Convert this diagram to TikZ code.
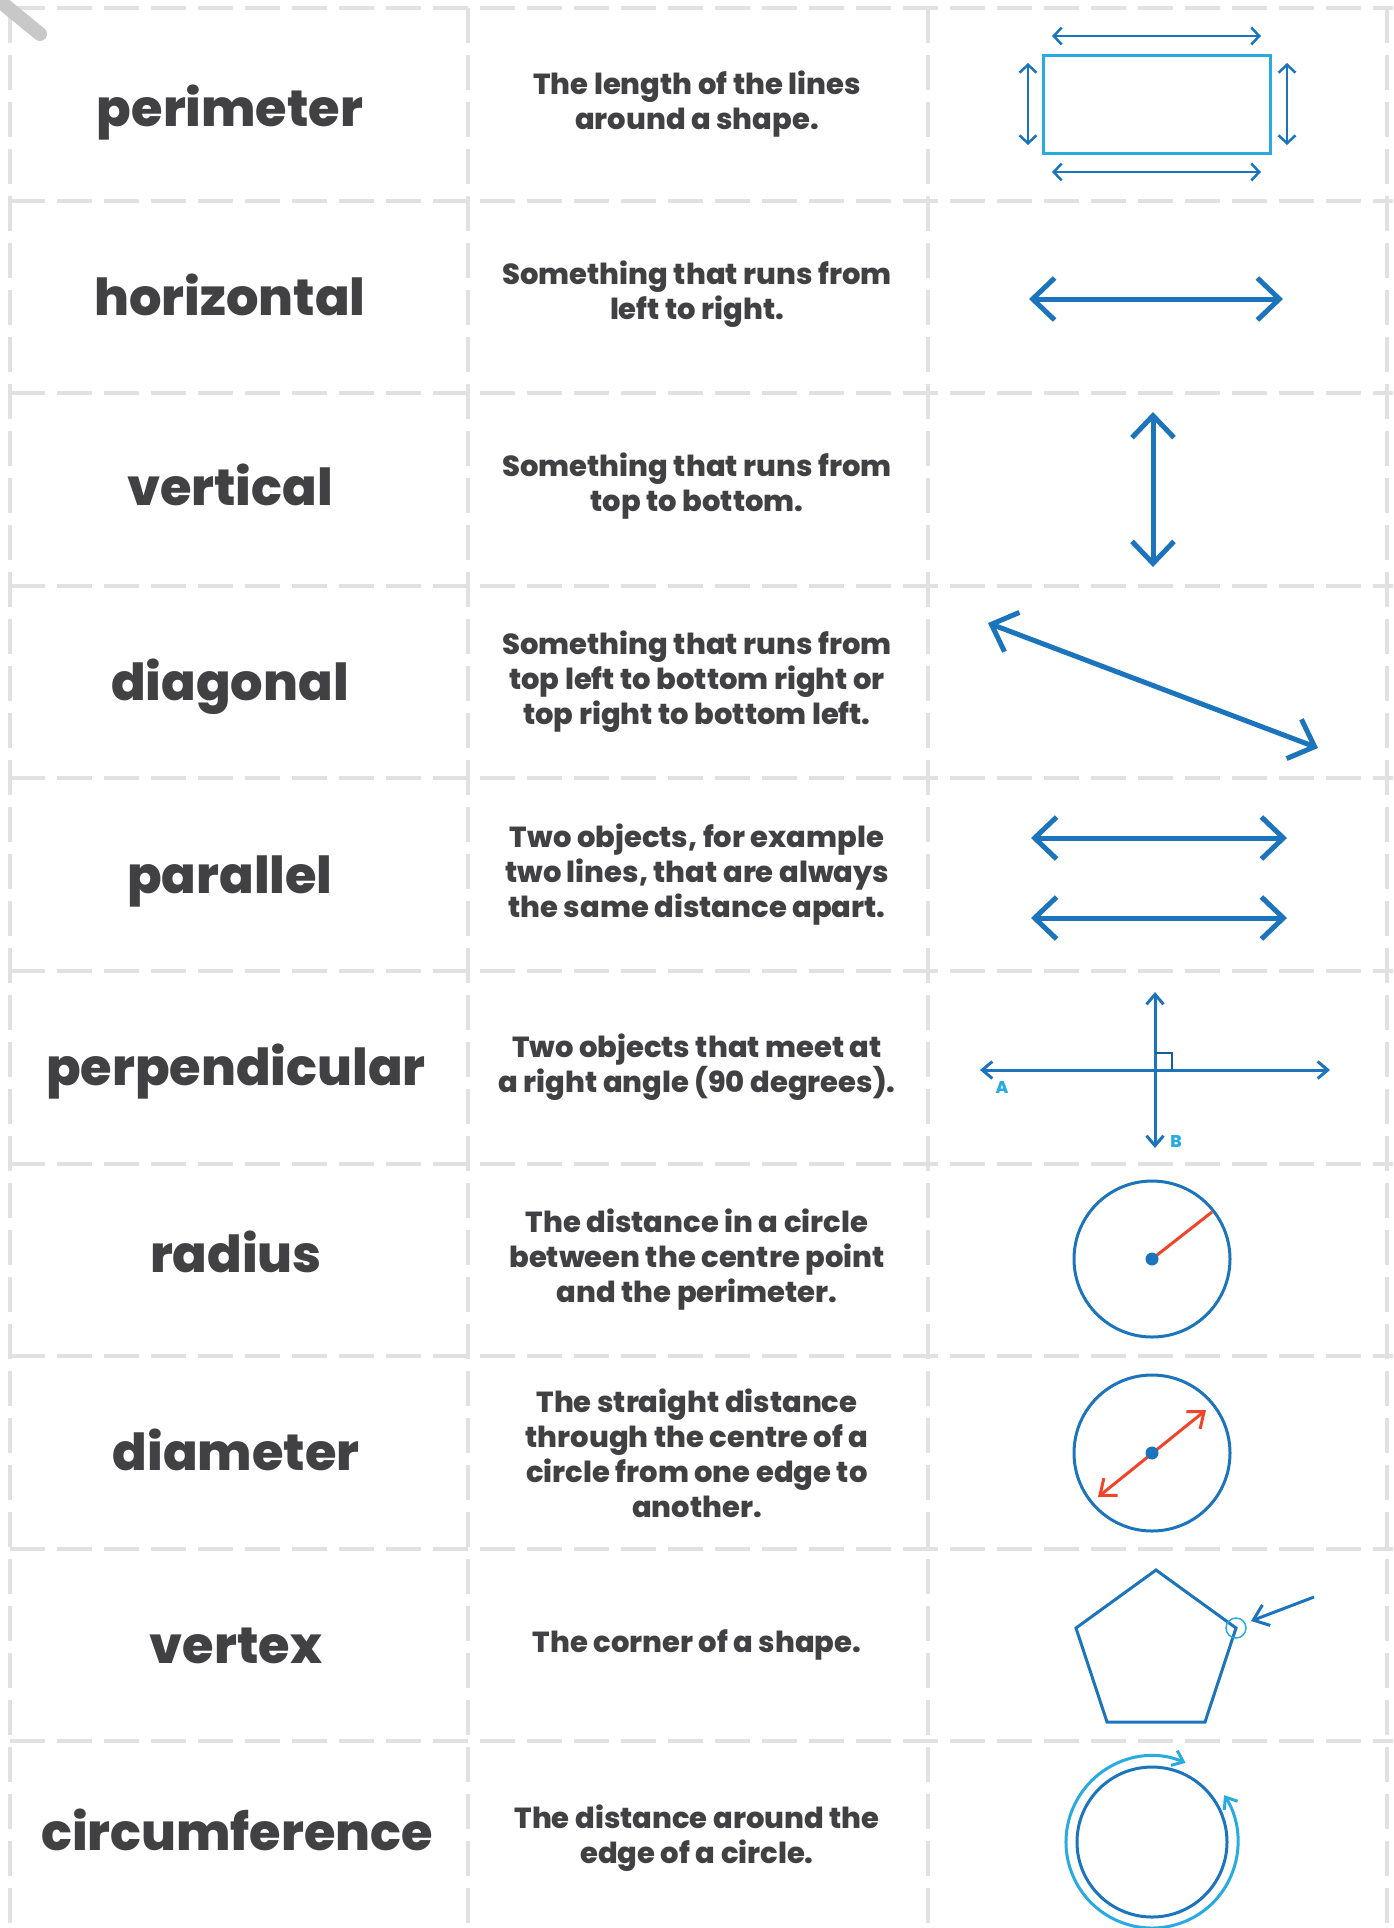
\documentclass[tikz,border=0pt]{standalone}
\usepackage{fontspec}
\setmainfont{Poppins}[BoldFont={Poppins ExtraBold}]
\usetikzlibrary{arrows.meta}
\definecolor{cutgrey}{HTML}{E1E1E1}
\definecolor{scissorgrey}{HTML}{C8C8C8}
\definecolor{darkblue}{HTML}{1C75BC}
\definecolor{lightblue}{HTML}{29ABE2}
\definecolor{redline}{HTML}{F1452A}
\definecolor{textgrey}{HTML}{414042}
\tikzset{
	cut/.style={cutgrey, line width=3.5pt, dash pattern=on 35pt off 12pt},
	word/.style={textgrey, anchor=mid, font=\fontsize{51}{60}\selectfont\bfseries},
	meaning/.style={textgrey, align=center, font=\fontsize{29}{35}\selectfont\bfseries},
	bigarrow/.style={darkblue, line width=5pt, {Straight Barb[length=22pt,width=42pt]}-{Straight Barb[length=22pt,width=42pt]}},
	thinarrow/.style={darkblue, line width=2.5pt, {Straight Barb[length=8pt,width=17pt]}-{Straight Barb[length=8pt,width=17pt]}},
	crossarrow/.style={darkblue, line width=3pt, {Straight Barb[length=10pt,width=17pt]}-{Straight Barb[length=10pt,width=17pt]}},
	redarrow/.style={redline, line width=3pt, {Straight Barb[length=14pt,width=22pt]}-{Straight Barb[length=14pt,width=22pt]}},
	ringarrow/.style={lightblue, line width=3pt, {Straight Barb[length=10pt,width=16pt]}-{Straight Barb[length=10pt,width=16pt]}},
	letter/.style={lightblue, font=\fontsize{17}{17}\selectfont\bfseries},
}
\begin{document}
\begin{tikzpicture}[x=1pt, y=1pt]
	\useasboundingbox (0,0) rectangle (1393,-1928);
	\fill[white] (0,0) rectangle (1393,-1928);
%% cutting lines
	\draw[cut] (10,-8) -- (1393,-8);
	\draw[cut] (10,-201) -- (1393,-201);
	\draw[cut] (10,-393) -- (1393,-393);
	\draw[cut] (10,-586) -- (1393,-586);
	\draw[cut] (10,-778) -- (1393,-778);
	\draw[cut] (10,-971) -- (1393,-971);
	\draw[cut] (10,-1164) -- (1393,-1164);
	\draw[cut] (10,-1356) -- (1393,-1356);
	\draw[cut] (10,-1549) -- (1393,-1549);
	\draw[cut] (10,-1741) -- (1393,-1741);
	\draw[cut] (10,-8) -- (10,-1928);
	\draw[cut] (468,-8) -- (468,-1928);
	\draw[cut] (928,-8) -- (928,-1928);
	\draw[cut] (1387,-8) -- (1387,-1928);
	\draw[scissorgrey, line width=14pt, line cap=round] (-4,2) -- (40,-34);
%% words
	\node[word] (perimeter) at (230,-124) {perimeter};
	\node[word] (horizontal) at (230,-313) {horizontal};
	\node[word] (vertical) at (230,-503) {vertical};
	\node[word] (diagonal) at (230,-698) {diagonal};
	\node[word] (parallel) at (230,-891) {parallel};
	\node[word] (perpendicular) at (236,-1083) {perpendicular};
	\node[word] (radius) at (236,-1270) {radius};
	\node[word] (diameter) at (236,-1468) {diameter};
	\node[word] (vertex) at (236,-1661) {vertex};
	\node[word] (circumference) at (237,-1848) {circumference};
%% meanings
	\node[meaning] (perimeterdef) at (697,-104) {The length of the lines\\around a shape.};
	\node[meaning] (horizontaldef) at (697,-294) {Something that runs from\\left to right.};
	\node[meaning] (verticaldef) at (697,-486) {Something that runs from\\top to bottom.};
	\node[meaning] (diagonaldef) at (697,-682) {Something that runs from\\top left to bottom right or\\top right to bottom left.};
	\node[meaning] (paralleldef) at (697,-875) {Two objects, for example\\two lines, that are always\\the same distance apart.};
	\node[meaning] (perpendiculardef) at (697,-1067) {Two objects that meet at\\a right angle (90 degrees).};
	\node[meaning] (radiusdef) at (697,-1260) {The distance in a circle\\between the centre point\\and the perimeter.};
	\node[meaning] (diameterdef) at (697,-1453) {The straight distance\\through the centre of a\\circle from one edge to\\another.};
	\node[meaning] (vertexdef) at (697,-1645) {The corner of a shape.};
	\node[meaning] (circumferencedef) at (697,-1838) {The distance around the\\edge of a circle.};
%% pictures
	\draw[lightblue, line width=3pt] (1043,-55) rectangle (1270,-153);
	\draw[thinarrow] (1052,-36) -- (1261,-36);
	\draw[thinarrow] (1052,-172) -- (1261,-172);
	\draw[thinarrow] (1028,-63) -- (1028,-145);
	\draw[thinarrow] (1287,-63) -- (1287,-145);
	\draw[bigarrow] (1029,-299) -- (1283,-299);
	\draw[bigarrow] (1153,-412) -- (1153,-567);
	\draw[bigarrow] (988,-623) -- (1318,-748);
	\draw[bigarrow] (1031,-838) -- (1287,-838);
	\draw[bigarrow] (1031,-918) -- (1287,-918);
	\draw[crossarrow] (980,-1070) -- (1330,-1070);
	\draw[crossarrow] (1155,-992) -- (1155,-1148);
	\draw[darkblue!80!black, line width=2.5pt] (1155,-1053) -- (1172,-1053) -- (1172,-1070);
	\node[letter] (A) at (1002,-1087) {A};
	\node[letter] (B) at (1176,-1141) {B};
	\draw[darkblue, line width=3pt] (1152,-1259) circle (78);
	\draw[redline, line width=3pt] (1152,-1259) -- (1212,-1212);
	\fill[darkblue] (1152,-1259) circle (6.5);
	\draw[darkblue, line width=3pt] (1152,-1453) circle (78);
	\draw[redarrow] (1098,-1497) -- (1206,-1410);
	\fill[darkblue] (1152,-1453) circle (6.5);
	\draw[darkblue, line width=3pt] (1156,-1570) -- (1236,-1628) -- (1205,-1722) -- (1107,-1722) -- (1076,-1628) -- cycle;
	\draw[lightblue, line width=1.5pt] (1236,-1628) circle (10);
	\draw[darkblue, line width=3pt, -{Straight Barb[length=14pt,width=22pt]}] (1314,-1597) -- (1251,-1621);
	\draw[darkblue, line width=3pt] (1152,-1842) circle (75);
	\draw[ringarrow] (1152,-1842) ++(67:86) arc[start angle=67, end angle=393, radius=86];
\end{tikzpicture}
\end{document}
